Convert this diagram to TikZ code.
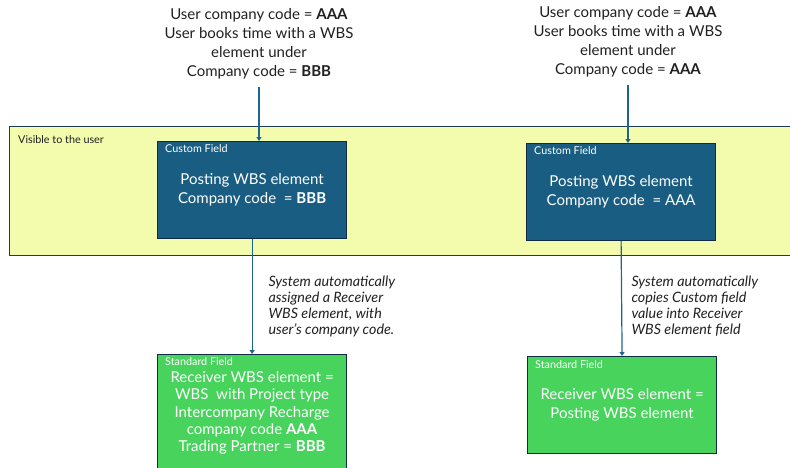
\documentclass[tikz,border=0pt]{standalone}
\usepackage{fontspec}
\setmainfont{Lato}
\usetikzlibrary{positioning, arrows.meta}

\definecolor{bandfill}{HTML}{F2FCAC}
\definecolor{bandline}{HTML}{1C3B57}
\definecolor{custfill}{HTML}{195E82}
\definecolor{boxline}{HTML}{0F2B45}
\definecolor{stdfill}{HTML}{47D35C}
\definecolor{flowblue}{HTML}{1F6491}
\definecolor{txtgrey}{HTML}{202020}

\begin{document}
\begin{tikzpicture}[x=1pt, y=-1pt,
    band/.style={draw=bandline, fill=bandfill, line width=1.3pt, anchor=north west,
      minimum width=800pt, minimum height=129pt, inner sep=0pt},
    custbox/.style={draw=boxline, fill=custfill, line width=1.2pt, anchor=north west,
      minimum width=189pt, minimum height=97pt, inner sep=0pt, text=white,
      font=\fontsize{15}{19}\selectfont, align=center},
    stdbox/.style={custbox, fill=stdfill},
    tag/.style={anchor=north west, inner sep=0pt, font=\fontsize{10.8}{12}\selectfont},
    toptxt/.style={align=center, text=txtgrey, font=\fontsize{15}{19}\selectfont},
    note/.style={anchor=north west, align=left, text=txtgrey,
      font=\itshape\fontsize{14.3}{16}\selectfont},
    flow/.style={draw=flowblue, line width=1.2pt, -{Triangle[width=5pt, length=4pt]}}]
  \useasboundingbox (0,0) rectangle (790,467);

  % user band
  \node[band] (vis) at (9,126) {};
  \node[tag, text=txtgrey] (vistag) at (18,135) {Visible to the user};

  % custom fields
  \node[custbox] (custA) at (157,141) {Posting WBS element\\Company code \ = \textbf{BBB}};
  \node[custbox] (custB) at (526,143) {Posting WBS element\\Company code \ = AAA};
  \node[tag, text=white] (custAtag) at (165,144) {Custom Field};
  \node[tag, text=white] (custBtag) at (534,146) {Custom Field};

  % standard fields
  \node[stdbox, minimum height=117pt, font=\fontsize{15}{17.3}\selectfont] (stdA) at (157,354)
    {Receiver WBS element =\\WBS \ with Project type\\Intercompany Recharge\\company code \textbf{AAA}\\Trading Partner = \textbf{BBB}};
  \node[stdbox] (stdB) at (527,356) {Receiver WBS element =\\Posting WBS element};
  \node[tag, text=white] (stdAtag) at (165,357) {Standard Field};
  \node[tag, text=white] (stdBtag) at (535,360) {Standard Field};

  % user input
  \node[toptxt] (userA) at (259,44)
    {User company code = \textbf{AAA}\\User books time with a WBS\\element under\\Company code = \textbf{BBB}};
  \node[toptxt] (userB) at (628,42)
    {User company code = \textbf{AAA}\\User books time with a WBS\\element under\\Company code = \textbf{AAA}};

  % system notes
  \node[note] (noteA) at (265,272)
    {System automatically\\assigned a Receiver\\WBS element, with\\user’s company code.};
  \node[note] (noteB) at (628,272)
    {System automatically\\copies Custom field\\value into Receiver\\WBS element field};

  \draw[flow] ([yshift=-4pt]userA.south) -- (userA.south |- custA.north);
  \draw[flow] ([yshift=-4pt]userB.south) -- (userB.south |- custB.north);
  \draw[flow] (custA.south) -- (stdA.north);
  \draw[flow] (custB.south) -- (stdB.north);
\end{tikzpicture}
\end{document}
